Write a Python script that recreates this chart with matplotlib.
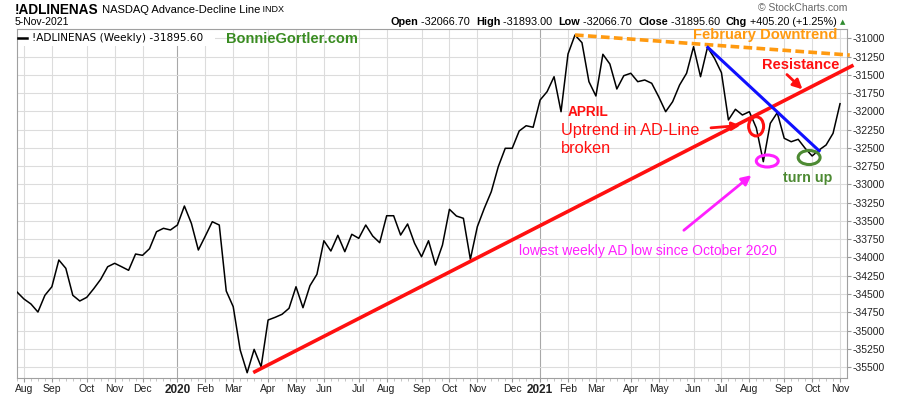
import matplotlib.pyplot as plt
import matplotlib.dates as mdates
import numpy as np
import pandas as pd
from matplotlib.patches import Ellipse, Rectangle

plt.rcParams['font.family'] = ['Liberation Sans', 'DejaVu Sans']
plt.rcParams['axes.unicode_minus'] = False

# weekly closes of the NASDAQ advance-decline line
first_week = '2019-08-02'
ad_close = [
    -34473, -34569, -34637, -34747, -34518, -34401, -34035, -34149, -34518, -34596,
    -34546, -34428, -34299, -34127, -34080, -34127, -34176, -33953, -33971, -33880,
    -33648, -33601, -33624, -33556, -33296, -33533, -33898, -33707, -33511, -33556,
    -34459, -34674, -35267, -35578, -35258, -35496, -34856, -34820, -34778, -34696,
    -34401, -34688, -34387, -34231, -33771, -33912, -33697, -33921, -33683, -33738,
    -33556, -33707, -33798, -33429, -33429, -33693, -33542, -33806, -33990, -33771,
    -34104, -33830, -33341, -33433, -33464, -34025, -33579, -33327, -33100, -32758,
    -32506, -32506, -32269, -32197, -32218, -31845, -31731, -31526, -32005, -31215,
    -30955, -31060, -31594, -31790, -31219, -31352, -31694, -31512, -31479, -31594,
    -31571, -31616, -31800, -32005, -31868, -31639, -31479, -31115, -31526, -31123,
    -31274, -31471, -32118, -31972, -32050, -32005, -32228, -32689, -32164, -32019,
    -32369, -32416, -32383, -32506, -32611, -32529, -32461, -32301, -31895.6,
]
y_ticks = list(range(-31000, -35501, -250))

header_stats = [("Open", " -32066.70  "), ("High", " -31893.00  "), ("Low", " -32066.70  "),
                ("Close", " -31895.60  "), ("Chg", " +405.20 (+1.25%)")]

weeks = pd.date_range(first_week, periods=len(ad_close), freq='7D')
xnum = mdates.date2num(weeks)
x0 = xnum[0]


def wk(i):
    # position in weeks from the first bar
    return x0 + 7 * i


# month grid: first bar whose week (Monday) starts in the month
mondays = weeks - pd.Timedelta(days=4)
per = mondays.to_period('M')
month_pos, month_lab, is_year = [], [], []
for k in range(len(weeks)):
    if k == 0 or per[k] != per[k - 1]:
        if k == 0 and mondays[k].month != weeks[k].month:
            continue
        month_pos.append(xnum[k])
        if mondays[k].month == 1:
            month_lab.append(str(mondays[k].year))
            is_year.append(True)
        else:
            month_lab.append(mondays[k].strftime('%b'))
            is_year.append(False)

fig = plt.figure(figsize=(9, 3.96), dpi=100)
ax = fig.add_axes([17 / 900, 1 - 378 / 396, 830 / 900, 349 / 396])

for p, y in zip(month_pos, is_year):
    ax.axvline(p, color='#a8a8a8' if y else '#dcdcdc', lw=0.8, zorder=0.5)
for t in y_ticks:
    ax.axhline(t, color='#dcdcdc', lw=0.8, zorder=0.5)

ax.plot(xnum, ad_close, color='black', lw=1.1, zorder=3)

ax.set_xlim(wk(0.43), wk(119))
ax.set_ylim(-35650, -30873)

ax.set_xticks(month_pos)
ax.set_xticklabels(month_lab)
for lab, y in zip(ax.get_xticklabels(), is_year):
    lab.set_fontsize(7.5)
    if y:
        lab.set_fontweight('bold')
        lab.set_fontsize(8.5)
ax.set_xticks(xnum, minor=True)
ax.tick_params(axis='x', which='major', length=3, color='#999999', pad=1, labelcolor='#222222')
ax.tick_params(axis='x', which='minor', length=2, color='#bbbbbb')

ax.yaxis.tick_right()
ax.set_yticks(y_ticks)
ax.set_yticklabels([str(t) for t in y_ticks])
ax.tick_params(axis='y', length=3, color='#999999', pad=1, labelsize=7.5, labelcolor='#222222')
for s in ax.spines.values():
    s.set_color('#a0a0a0')
    s.set_linewidth(0.8)

# legend strip
ax.add_patch(Rectangle((0, 0.951), 0.2386, 0.049, transform=ax.transAxes,
                       facecolor='white', edgecolor='none', zorder=2))
ax.plot([1 / 830, 10 / 830], [0.975, 0.975], transform=ax.transAxes, color='black', lw=1.8, zorder=4)
ax.text(15 / 830, 0.975, "!ADLINENAS (Weekly) -31895.60", transform=ax.transAxes,
        family='DejaVu Sans', fontsize=7.6, va='center', ha='left', zorder=4)
ax.text(wk(39.4), -31010, "BonnieGortler.com", color='#3a8c22', fontsize=10.5,
        fontweight='bold', ha='center', va='center', zorder=4)

# trend lines
ax.plot([wk(34.1), wk(119.7)], [-35564, -31379], color='#ff1010', lw=2.6, clip_on=False, zorder=5)
ax.plot([wk(80), wk(119.4)], [-30955, -31230], color='#ff9a10', lw=2.6, dashes=(2.4, 1.2),
        clip_on=False, zorder=5)
ax.plot([wk(99.05), wk(115)], [-31125, -32540], color='#1010ff', lw=2.2, zorder=5)

ax.text(wk(107.3), -30950, "February Downtrend", color='#ff9a10', fontsize=10.6,
        fontweight='bold', ha='center', va='center', zorder=6)
ax.text(wk(112.4), -31366, "Resistance", color='#ff1010', fontsize=10.5,
        fontweight='bold', ha='center', va='center', zorder=6)
ax.annotate("", xy=(wk(112.9), -31725), xytext=(wk(110.1), -31470),
            arrowprops=dict(arrowstyle='-|>', color='#ff1010', lw=2, mutation_scale=14), zorder=6)

ax.text(wk(81.9), -32009, "APRIL", color='#ff1010', fontsize=9.8,
        fontweight='bold', ha='center', va='center', zorder=6)
ax.text(wk(78), -32257, "Uptrend in AD-Line", color='#ff1010', fontsize=11.8,
        ha='left', va='center', zorder=6)
ax.text(wk(78), -32503, "broken", color='#ff1010', fontsize=11.8,
        ha='left', va='center', zorder=6)
ax.annotate("", xy=(wk(104.1), -32190), xytext=(wk(99.1), -32229),
            arrowprops=dict(arrowstyle='-|>', color='#ff1010', lw=2, mutation_scale=12), zorder=6)

ax.add_patch(Ellipse((wk(105.97), -32205), 15, 264, fill=False, edgecolor='#ff1010', lw=2.2, zorder=6))
ax.add_patch(Ellipse((wk(107.57), -32680), 22, 164, fill=False, edgecolor='#ff20ff', lw=2.2, zorder=6))
ax.add_patch(Ellipse((wk(113.57), -32632), 22, 192, fill=False, edgecolor='#4d8a33', lw=2.2, zorder=6))

ax.annotate("", xy=(wk(105.6), -32850), xytext=(wk(95.3), -33652),
            arrowprops=dict(arrowstyle='-|>', color='#ff20ff', lw=2, mutation_scale=14), zorder=6)
ax.text(wk(72), -33912, "lowest weekly AD low since October 2020", color='#ff20ff', fontsize=10,
        ha='left', va='center', zorder=6)
ax.text(wk(113.4), -32912, "turn up", color='#4d8a33', fontsize=10.3,
        fontweight='bold', ha='center', va='center', zorder=6)

# header
t1 = fig.text(15 / 900, 1 - 10 / 396, "!ADLINENAS", fontsize=9.8, fontweight='bold', va='center', ha='left')
t2 = ax.annotate(" NASDAQ Advance-Decline Line", xy=(1, 0.5), xycoords=t1, fontsize=8,
                 va='center', ha='left', annotation_clip=False)
ax.annotate(" INDX", xy=(1, 0.5), xycoords=t2, fontsize=6.5, va='center', ha='left', annotation_clip=False)
fig.text(15 / 900, 1 - 22 / 396, "5-Nov-2021", fontsize=7.5, va='center', ha='left')
fig.text(847 / 900, 1 - 8 / 396, "\u00a9 StockCharts.com", fontsize=7.5, color='#666666',
         va='center', ha='right')
fig.text(843 / 900, 1 - 22 / 396, "\u25b2", fontsize=5, color='#2e8b2e', va='center',
         ha='center', family='DejaVu Sans')

prev = None
for name, val in reversed(header_stats):
    if prev is None:
        prev = fig.text(837 / 900, 1 - 22 / 396, val, fontsize=7.8, va='center', ha='right')
    else:
        prev = ax.annotate(val, xy=(0, 0.5), xycoords=prev, fontsize=7.8, va='center',
                           ha='right', annotation_clip=False)
    prev = ax.annotate(name, xy=(0, 0.5), xycoords=prev, fontsize=7.8, fontweight='bold',
                       va='center', ha='right', annotation_clip=False)

fig.savefig('out.png', dpi=100, facecolor='white')
